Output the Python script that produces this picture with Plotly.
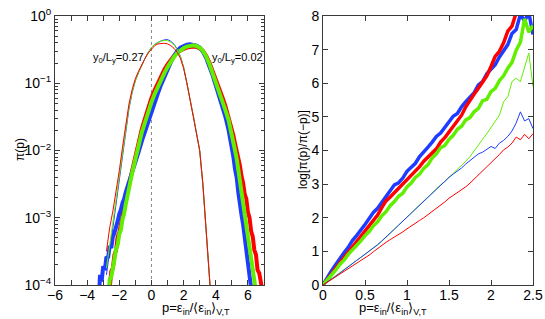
import plotly.graph_objects as go

# ---------------- data: left panel (log10 of pi(p)) ----------------
p_thin = [-2.8, -2.6, -2.4, -2.2, -2.0, -1.8, -1.6, -1.4, -1.2, -1.0, -0.8, -0.6, -0.4, -0.2,
          0.0, 0.2, 0.4, 0.6, 0.8, 1.0, 1.2, 1.4, 1.6, 1.8, 2.0, 2.2, 2.4, 2.6, 2.8, 3.0,
          3.2, 3.4, 3.6, 3.7]
lg_thin_green = [-3.75, -3.40, -3.05, -2.72, -2.38, -2.02, -1.66, -1.36, -1.13, -0.96, -0.84, -0.73,
                 -0.63, -0.54, -0.47, -0.42, -0.39, -0.372, -0.365, -0.365, -0.39, -0.43, -0.50,
                 -0.60, -0.76, -0.98, -1.24, -1.48, -1.72, -2.0, -2.5, -3.15, -3.85, -4.2]
lg_thin_blue = [-3.85, -3.50, -3.10, -2.75, -2.40, -2.04, -1.68, -1.38, -1.14, -0.96, -0.84, -0.73,
                -0.63, -0.54, -0.47, -0.42, -0.39, -0.37, -0.355, -0.35, -0.375, -0.42, -0.49,
                -0.60, -0.76, -0.98, -1.24, -1.48, -1.72, -2.0, -2.52, -3.18, -3.88, -4.2]
lg_thin_red = [-3.5, -3.15, -2.90, -2.62, -2.30, -1.95, -1.60, -1.31, -1.09, -0.93, -0.82, -0.72,
               -0.63, -0.55, -0.49, -0.44, -0.415, -0.405, -0.405, -0.415, -0.44, -0.48, -0.54,
               -0.63, -0.78, -0.99, -1.24, -1.48, -1.72, -2.0, -2.5, -3.15, -3.85, -4.2]

p_core = [-1.2, -1.0, -0.8, -0.6, -0.4, -0.2, 0.0, 0.2, 0.4, 0.6, 0.8, 1.0, 1.2, 1.4, 1.6, 1.8,
          2.0, 2.2, 2.4, 2.6, 2.8, 3.0, 3.2, 3.4, 3.6, 3.8, 4.0, 4.2, 4.4, 4.6, 4.8, 5.0]

p_thick_green = ([-2.65, -2.6, -2.5, -2.4, -2.3, -2.2, -2.1, -2.0, -1.9, -1.8, -1.7, -1.6, -1.5, -1.4]
                 + p_core
                 + [5.1, 5.2, 5.3, 5.4, 5.5, 5.6, 5.7, 5.8, 5.9, 6.0, 6.1, 6.2, 6.3, 6.4, 6.5])
lg_thick_green = ([-4.1, -3.92, -3.88, -3.70, -3.62, -3.46, -3.40, -3.24, -3.18, -3.02, -2.94, -2.80, -2.70, -2.57]
                  + [-2.33, -2.12, -1.93, -1.73, -1.58, -1.42, -1.28, -1.16, -1.05, -0.95, -0.85, -0.76,
                     -0.68, -0.61, -0.55, -0.51, -0.48, -0.455, -0.44, -0.435, -0.445, -0.47, -0.52,
                     -0.60, -0.71, -0.84, -0.98, -1.12, -1.25, -1.40, -1.55, -1.75]
                  + [-1.88, -2.0, -2.12, -2.28, -2.40, -2.58, -2.70, -2.90, -3.02, -3.22, -3.35, -3.55,
                     -3.68, -3.88, -4.1])

p_thick_blue = ([-3.25, -3.2, -3.1, -3.0, -2.9, -2.8, -2.7, -2.6, -2.5, -2.4, -2.3, -2.2, -2.1, -2.0,
                 -1.9, -1.8, -1.7, -1.6, -1.5, -1.4]
                + p_core
                + [5.1, 5.2, 5.3, 5.4, 5.5, 5.6, 5.7, 5.8, 5.9, 6.0, 6.1, 6.2])
lg_thick_blue = ([-4.1, -3.85, -3.95, -3.72, -3.78, -3.58, -3.60, -3.42, -3.45, -3.28, -3.22, -3.10,
                  -3.05, -2.94, -2.88, -2.78, -2.72, -2.62, -2.55, -2.46]
                 + [-2.31, -2.16, -2.02, -1.86, -1.71, -1.56, -1.42, -1.28, -1.15, -1.02, -0.90, -0.79,
                    -0.69, -0.60, -0.52, -0.47, -0.44, -0.425, -0.42, -0.425, -0.44, -0.47, -0.53,
                    -0.62, -0.74, -0.88, -1.03, -1.18, -1.33, -1.50, -1.70, -1.95]
                 + [-2.10, -2.28, -2.40, -2.62, -2.75, -2.96, -3.10, -3.30, -3.42, -3.66, -3.78, -4.05])

p_thick_red = ([-2.6, -2.5, -2.4, -2.3, -2.2, -2.1, -2.0, -1.9, -1.8, -1.7, -1.6, -1.5, -1.4]
               + p_core
               + [5.1, 5.2, 5.3, 5.4, 5.5, 5.6, 5.7, 5.8, 5.9, 6.0, 6.1, 6.2, 6.3, 6.4, 6.5, 6.6,
                  6.7, 6.8, 6.9])
lg_thick_red = ([-4.05, -3.80, -3.75, -3.55, -3.48, -3.28, -3.22, -3.05, -2.98, -2.82, -2.76, -2.60, -2.52]
                + [-2.30, -2.08, -1.88, -1.68, -1.52, -1.36, -1.22, -1.10, -0.99, -0.89, -0.80, -0.72,
                   -0.65, -0.59, -0.54, -0.51, -0.49, -0.47, -0.46, -0.455, -0.46, -0.48, -0.52,
                   -0.59, -0.69, -0.81, -0.94, -1.07, -1.20, -1.34, -1.50, -1.68]
                + [-1.78, -1.90, -2.00, -2.12, -2.22, -2.38, -2.48, -2.65, -2.72, -2.92, -3.00, -3.20,
                   -3.28, -3.48, -3.55, -3.78, -3.82, -3.95, -4.1])

# ---------------- data: right panel log[pi(p)/pi(-p)] ----------------
p_r = [0.0, 0.05, 0.1, 0.15, 0.2, 0.25, 0.3, 0.35, 0.4, 0.45, 0.5,
       0.55, 0.6, 0.65, 0.7, 0.75, 0.8, 0.85, 0.9, 0.95, 1.0,
       1.05, 1.1, 1.15, 1.2, 1.25, 1.3, 1.35, 1.4, 1.45, 1.5,
       1.55, 1.6, 1.65, 1.7, 1.75, 1.8, 1.85, 1.9, 1.95, 2.0,
       2.05, 2.1, 2.15, 2.2, 2.25, 2.3, 2.35, 2.4, 2.45, 2.5]
r_thick_blue = [0.0, 0.22, 0.42, 0.60, 0.80, 0.96, 1.12, 1.32, 1.47, 1.62, 1.80,
                1.98, 2.16, 2.28, 2.45, 2.62, 2.80, 2.98, 3.04, 3.18, 3.38,
                3.50, 3.62, 3.82, 3.95, 4.10, 4.25, 4.42, 4.52, 4.70, 4.85,
                5.02, 5.10, 5.30, 5.45, 5.58, 5.72, 5.95, 6.05, 6.28, 6.40,
                6.55, 6.78, 6.95, 7.15, 7.48, 7.60, 8.05, 7.85, 8.10, 7.45]
r_thick_red = [0.0, 0.15, 0.32, 0.50, 0.66, 0.82, 0.98, 1.12, 1.28, 1.45, 1.60,
               1.75, 1.92, 2.08, 2.30, 2.50, 2.62, 2.75, 2.88, 3.00, 3.12,
               3.25, 3.38, 3.52, 3.68, 3.80, 3.92, 4.05, 4.25, 4.38, 4.55,
               4.72, 4.90, 5.05, 5.30, 5.50, 5.68, 5.85, 6.02, 6.22, 6.50,
               6.80, 6.95, 7.20, 7.55, 7.70, 8.10, 8.30, 8.45, 8.60, 8.80]
r_thick_green = [0.0, 0.14, 0.31, 0.44, 0.61, 0.74, 0.91, 1.04, 1.19, 1.31, 1.47,
                 1.59, 1.76, 1.88, 2.06, 2.18, 2.36, 2.48, 2.64, 2.73, 2.92,
                 3.03, 3.20, 3.30, 3.47, 3.58, 3.78, 3.90, 4.08, 4.15, 4.33,
                 4.45, 4.63, 4.72, 4.91, 4.98, 5.15, 5.25, 5.48, 5.52, 5.75,
                 5.85, 6.08, 6.22, 6.45, 6.62, 6.98, 7.22, 7.92, 7.52, 7.72]
r_thin_green = [0.0, 0.09, 0.18, 0.27, 0.36, 0.45, 0.54, 0.63, 0.72, 0.81, 0.90,
                0.99, 1.08, 1.19, 1.30, 1.42, 1.53, 1.65, 1.77, 1.89, 2.02,
                2.15, 2.28, 2.40, 2.52, 2.63, 2.75, 2.86, 2.98, 3.08, 3.20,
                3.32, 3.42, 3.55, 3.68, 3.82, 3.98, 4.15, 4.33, 4.50, 4.68,
                4.85, 5.05, 5.45, 5.60, 6.05, 6.15, 6.05, 6.50, 6.90, 5.90]
r_thin_blue = [0.0, 0.08, 0.17, 0.26, 0.35, 0.45, 0.54, 0.64, 0.73, 0.82, 0.91,
               1.00, 1.10, 1.20, 1.31, 1.42, 1.54, 1.66, 1.78, 1.90, 2.02,
               2.14, 2.26, 2.38, 2.50, 2.62, 2.74, 2.85, 2.97, 3.08, 3.20,
               3.30, 3.38, 3.48, 3.60, 3.70, 3.80, 3.90, 3.95, 4.03, 4.12,
               4.06, 4.22, 4.30, 4.42, 4.58, 4.82, 5.15, 4.88, 4.95, 4.65]
r_thin_red = [0.0, 0.08, 0.16, 0.25, 0.33, 0.41, 0.49, 0.57, 0.65, 0.73, 0.81,
              0.89, 0.99, 1.09, 1.18, 1.27, 1.35, 1.42, 1.50, 1.58, 1.67,
              1.76, 1.84, 1.92, 2.00, 2.09, 2.18, 2.27, 2.38, 2.47, 2.58,
              2.66, 2.74, 2.84, 2.92, 3.03, 3.15, 3.28, 3.40, 3.52, 3.62,
              3.75, 3.88, 4.02, 4.10, 4.22, 4.40, 4.32, 4.48, 4.35, 4.50]

log_tickvals = [1e-4, 1e-3, 1e-2, 1e-1, 1]
log_ticktext = ["10<sup>\u22124</sup>", "10<sup>\u22123</sup>", "10<sup>\u22122</sup>",
                "10<sup>\u22121</sup>", "10<sup>0</sup>"]
left_xticks = [-6, -4, -2, 0, 2, 4, 6]
label_a = "y<sub>0</sub>/L<sub>y</sub>=0.27"
label_b = "y<sub>0</sub>/L<sub>y</sub>=0.02"
xtitle = "p=\u03b5<sub>in</sub>/\u27e8\u03b5<sub>in</sub>\u27e9<sub>V,T</sub>"

RED = "#ff0000"
BLUE = "#1e3cff"
GREEN = "#62ee00"
FONT = "Liberation Sans, Arial, sans-serif"
AX = "#3a3a3a"

fig = go.Figure()


def add(x, y, color, width, xa, ya):
    fig.add_trace(go.Scatter(x=x, y=y, mode="lines", xaxis=xa, yaxis=ya,
                             line=dict(color=color, width=width), showlegend=False,
                             hoverinfo="skip"))


def unlog(v):
    return [10 ** a for a in v]

# left panel
add(p_thick_red, unlog(lg_thick_red), RED, 4, "x", "y")
add(p_thick_blue, unlog(lg_thick_blue), BLUE, 4, "x", "y")
add(p_thick_green, unlog(lg_thick_green), GREEN, 4, "x", "y")
add(p_thin, unlog(lg_thin_blue), BLUE, 1, "x", "y")
add(p_thin, unlog(lg_thin_green), GREEN, 1, "x", "y")
add(p_thin, unlog(lg_thin_red), RED, 1, "x", "y")

# right panel
add(p_r, r_thick_blue, BLUE, 3.5, "x2", "y2")
add(p_r, r_thick_red, RED, 3.5, "x2", "y2")
add(p_r, r_thick_green, GREEN, 3.5, "x2", "y2")
add(p_r, r_thin_green, GREEN, 1, "x2", "y2")
add(p_r, r_thin_blue, BLUE, 1, "x2", "y2")
add(p_r, r_thin_red, RED, 1, "x2", "y2")

ydom = [1 - 285 / 319, 1 - 16 / 319]
common = dict(showline=True, mirror="ticks", linecolor=AX, linewidth=1, ticks="inside",
              tickcolor=AX, ticklen=5, showgrid=False, zeroline=False, automargin=False,
              tickfont=dict(family=FONT, size=14, color="black"))

fig.update_layout(
    width=545, height=319,
    margin=dict(l=0, r=0, t=0, b=0, autoexpand=False),
    paper_bgcolor="white", plot_bgcolor="white",
    font=dict(family=FONT, size=12, color="black"),
    xaxis=dict(domain=[55 / 545, 264 / 545], range=[-6, 7], tickvals=left_xticks,
               anchor="y", ticklabelstandoff=-3,
               minor=dict(dtick=1, ticks="inside", ticklen=5, tickcolor=AX), **common),
    yaxis=dict(domain=ydom, type="log", range=[-4, 0], tickvals=log_tickvals,
               ticktext=log_ticktext, anchor="x",
               minor=dict(dtick="D1", ticks="inside", ticklen=3, tickcolor=AX), **common),
    xaxis2=dict(domain=[323 / 545, 533 / 545], range=[0, 2.5], dtick=0.5, anchor="y2",
                ticklabelstandoff=-3, **common),
    yaxis2=dict(domain=ydom, range=[0, 8], dtick=1, anchor="x2", **common),
    shapes=[dict(type="line", xref="x", yref="y domain", x0=0, x1=0, y0=0, y1=1,
                 line=dict(color="#888888", width=1, dash="dot"), layer="below")],
    annotations=[
        dict(text=label_a, xref="paper", yref="paper", x=146 / 545, y=1 - 49 / 319,
             xanchor="right", showarrow=False, font=dict(family=FONT, size=11)),
        dict(text=label_b, xref="paper", yref="paper", x=210 / 545, y=1 - 49 / 319,
             xanchor="left", showarrow=False, font=dict(family=FONT, size=11)),
        dict(text="\u03c0(p)", xref="paper", yref="paper", x=11 / 545, y=1 - 150 / 319,
             textangle=-90, showarrow=False, font=dict(family=FONT, size=12)),
        dict(text="log[\u03c0(p)/\u03c0(\u2212p)]", xref="paper", yref="paper", x=303 / 545,
             y=1 - 150 / 319, textangle=-90, showarrow=False, font=dict(family=FONT, size=12)),
        dict(text=xtitle, xref="paper", yref="paper", x=160 / 545, y=0,
             yanchor="bottom", showarrow=False, font=dict(family=FONT, size=13)),
        dict(text=xtitle, xref="paper", yref="paper", x=429 / 545, y=0,
             yanchor="bottom", showarrow=False, font=dict(family=FONT, size=13)),
    ],
)

fig.write_html("out.html", config={"displayModeBar": False},
               post_script="document.body.style.margin='0';")
